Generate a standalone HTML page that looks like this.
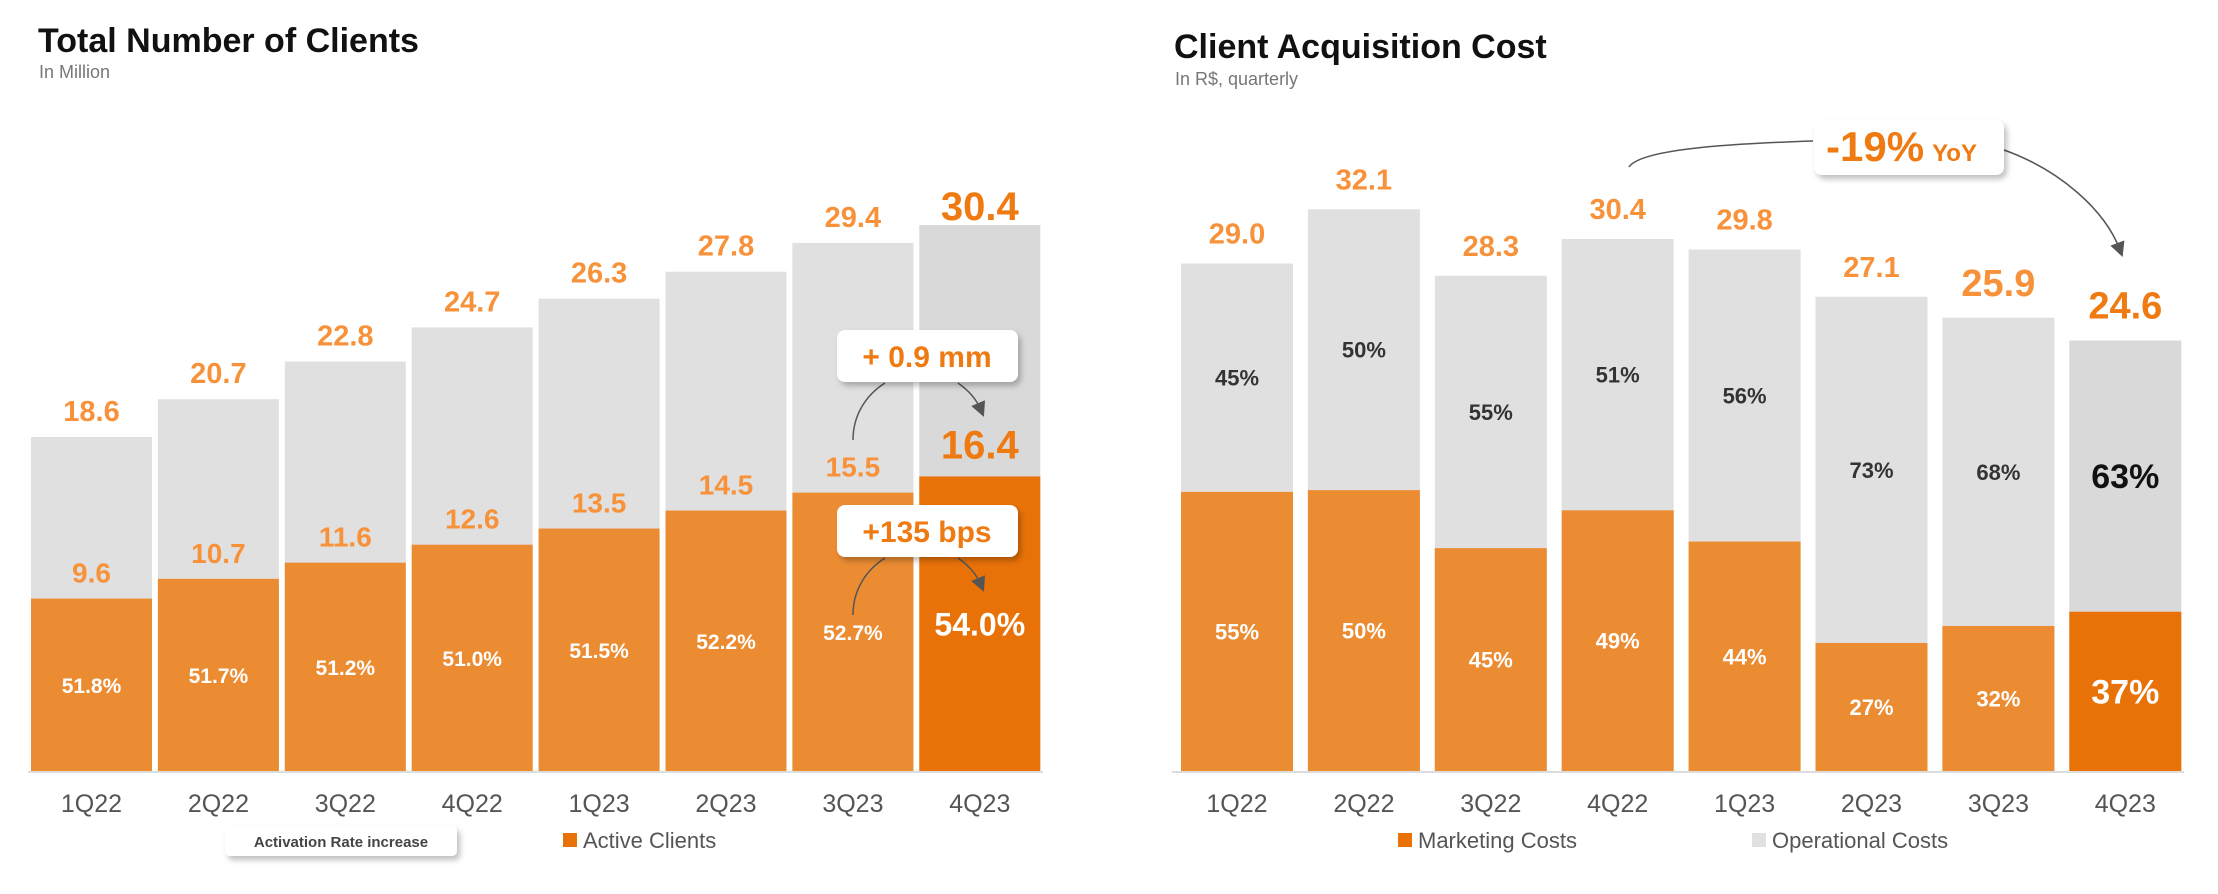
<!DOCTYPE html>
<html><head><meta charset="utf-8">
<style>
html,body{margin:0;padding:0;background:#fff;}
svg{display:block;font-family:"Liberation Sans",sans-serif;}
</style></head>
<body>
<svg id="c" width="2218" height="894" viewBox="0 0 2218 894" xmlns="http://www.w3.org/2000/svg">
<defs>
<filter id="sh" x="-20%" y="-30%" width="150%" height="180%"><feDropShadow dx="3" dy="4" stdDeviation="3" flood-color="#000" flood-opacity="0.25"/></filter>
<marker id="ah" markerWidth="10" markerHeight="10" refX="5" refY="5" orient="auto"><path d="M0,0 L10,5 L0,10 z" fill="#555"/></marker>
</defs>
<text x="38" y="52" font-size="34" font-weight="bold" fill="#111">Total Number of Clients</text>
<text x="39" y="78" font-size="18" fill="#777">In Million</text>
<text x="1174" y="58" font-size="34" font-weight="bold" fill="#111">Client Acquisition Cost</text>
<text x="1175" y="85" font-size="18" fill="#777">In R$, quarterly</text>
<g id="left"></g>
<g id="right"></g>
</svg>
<script>
const quarters=["1Q22","2Q22","3Q22","4Q22","1Q23","2Q23","3Q23","4Q23"];
const totalClients=[18.6,20.7,22.8,24.7,26.3,27.8,29.4,30.4];
const activeClients=[9.6,10.7,11.6,12.6,13.5,14.5,15.5,16.4];
const activationRate=["51.8%","51.7%","51.2%","51.0%","51.5%","52.2%","52.7%","54.0%"];
const cacTotal=[29.0,32.1,28.3,30.4,29.8,27.1,25.9,24.6];
const marketingShare=[55,50,45,49,44,27,32,37];
const operationalShare=[45,50,55,51,56,73,68,63];

const NS="http://www.w3.org/2000/svg";
function mk(p,tag,at,txt){const e=document.createElementNS(NS,tag);for(const k in at)e.setAttribute(k,at[k]);if(txt!==undefined)e.textContent=txt;p.appendChild(e);return e;}
const base=771;
const L=document.getElementById('left');
const lx=i=>31+i*126.9, lw=121, ly=v=>base-v*17.96;
const R=document.getElementById('right');
const rx=i=>1181+i*126.9, rw=112, ry=v=>base-v*17.5;

quarters.forEach((q,i)=>{
  const last=i===7;
  const g=mk(L,'g',{});
  
  
  const t=mk(g,'rect',{x:lx(i),y:ly(totalClients[i]),width:lw,height:base-ly(totalClients[i]),fill:last?'#d9d9d9':'#e0e0e0'});
  
  
  const a=mk(g,'rect',{x:lx(i),y:ly(activeClients[i]),width:lw,height:base-ly(activeClients[i]),fill:last?'#e97208':'#ec8c32'});
  
  
  const cx=lx(i)+lw/2;
  const tl=mk(g,'text',{x:cx,y:ly(totalClients[i])-(last?5:16),'text-anchor':'middle','font-size':last?40:29,'font-weight':'bold',fill:last?'#ef7a12':'#f7923a'},totalClients[i].toFixed(1));
  
  
  const al=mk(g,'text',{x:cx,y:ly(activeClients[i])-(last?18:16),'text-anchor':'middle','font-size':last?40:28,'font-weight':'bold',fill:last?'#ef7a12':'#f7923a'},activeClients[i].toFixed(1));
  
  
  const pm=(ly(activeClients[i])+base)/2;
  const pl=mk(g,'text',{x:cx,y:last?pm+12:pm+8,'text-anchor':'middle','font-size':last?32:21,'font-weight':'bold',fill:'#fff'},activationRate[i]);
  
  
  const xl=mk(L,'text',{x:cx,y:812,'text-anchor':'middle','font-size':25,fill:'#555'},q);
  
  

  const g2=mk(R,'g',{});
  
  
  const top=ry(cacTotal[i]), h=base-top, mh=h*marketingShare[i]/100;
  const o=mk(g2,'rect',{x:rx(i),y:top,width:rw,height:h,fill:last?'#d9d9d9':'#e0e0e0'});
  
  
  const m=mk(g2,'rect',{x:rx(i),y:base-mh,width:rw,height:mh,fill:last?'#e97208':'#ec8c32'});
  
  
  const rcx=rx(i)+rw/2;
  const big=i>=6;
  const ct=mk(g2,'text',{x:rcx,y:top-(big?22:20),'text-anchor':'middle','font-size':big?38:29,'font-weight':'bold',fill:last?'#ef7a12':'#f7923a'},cacTotal[i].toFixed(1));
  
  
  const op=mk(g2,'text',{x:rcx,y:(top+base-mh)/2+(last?12:8),'text-anchor':'middle','font-size':last?34:22,'font-weight':'bold',fill:last?'#111':'#333'},operationalShare[i]+'%');
  
  
  const mp=mk(g2,'text',{x:rcx,y:base-mh/2+(last?12:8),'text-anchor':'middle','font-size':last?34:22,'font-weight':'bold',fill:'#fff'},marketingShare[i]+'%');
  
  
  const xr=mk(R,'text',{x:rcx,y:812,'text-anchor':'middle','font-size':25,fill:'#555'},q);
  
  
});
const b1=mk(L,'line',{x1:28,y1:base+1,x2:1043,y2:base+1,stroke:'#ddd','stroke-width':2});


const b2=mk(R,'line',{x1:1172,y1:base+1,x2:2184,y2:base+1,stroke:'#ddd','stroke-width':2});


</script>
<svg style="position:absolute;left:0;top:0" width="2218" height="894">
<g fill="none" stroke="#555" stroke-width="1.5">
<path d="M853,440 C853,415 866,395 885,383" />
<path d="M958,383 C968,390 976,398 981,410" marker-end="url(#ah)"/>
<path d="M853,615 C853,590 866,570 885,558" />
<path d="M958,558 C968,565 976,573 981,585" marker-end="url(#ah)"/>
<path d="M1629,167 C1640,150 1720,144 1813,141" />
<path d="M2004,150 C2060,170 2105,210 2120,250" marker-end="url(#ah)"/>
</g>
<g>
<rect x="837" y="330" width="181" height="52" rx="8" fill="#fff" filter="url(#sh)"/>
<text x="927" y="367" text-anchor="middle" font-size="30" font-weight="bold" fill="#ef7a12" font-family="Liberation Sans,sans-serif">+ 0.9 mm</text>
</g>
<g>
<rect x="837" y="505" width="181" height="52" rx="8" fill="#fff" filter="url(#sh)"/>
<text x="927" y="542" text-anchor="middle" font-size="30" font-weight="bold" fill="#ef7a12" font-family="Liberation Sans,sans-serif">+135 bps</text>
</g>
<g>
<rect x="1814" y="120" width="190" height="55" rx="8" fill="#fff" filter="url(#sh)"/>
<text x="1826" y="161" font-size="42" font-weight="bold" fill="#ef7a12" font-family="Liberation Sans,sans-serif">-19%<tspan font-size="24" dx="8">YoY</tspan></text>
</g>
<g>
<rect x="225" y="826" width="232" height="30" rx="5" fill="#fff" filter="url(#sh)"/>
<text x="341" y="847" text-anchor="middle" font-size="15" font-weight="bold" fill="#444" font-family="Liberation Sans,sans-serif">Activation Rate increase</text>
</g>
<g>
<rect x="563" y="833" width="14" height="14" fill="#e97208"/>
<text x="583" y="848" font-size="22" fill="#555" font-family="Liberation Sans,sans-serif">Active Clients</text>
</g>
<g>
<rect x="1398" y="833" width="14" height="14" fill="#e97208"/>
<text x="1418" y="848" font-size="22" fill="#555" font-family="Liberation Sans,sans-serif">Marketing Costs</text>
</g>
<g>
<rect x="1752" y="833" width="14" height="14" fill="#e0e0e0"/>
<text x="1772" y="848" font-size="22" fill="#555" font-family="Liberation Sans,sans-serif">Operational Costs</text>
</g>
</svg>
</body></html>
